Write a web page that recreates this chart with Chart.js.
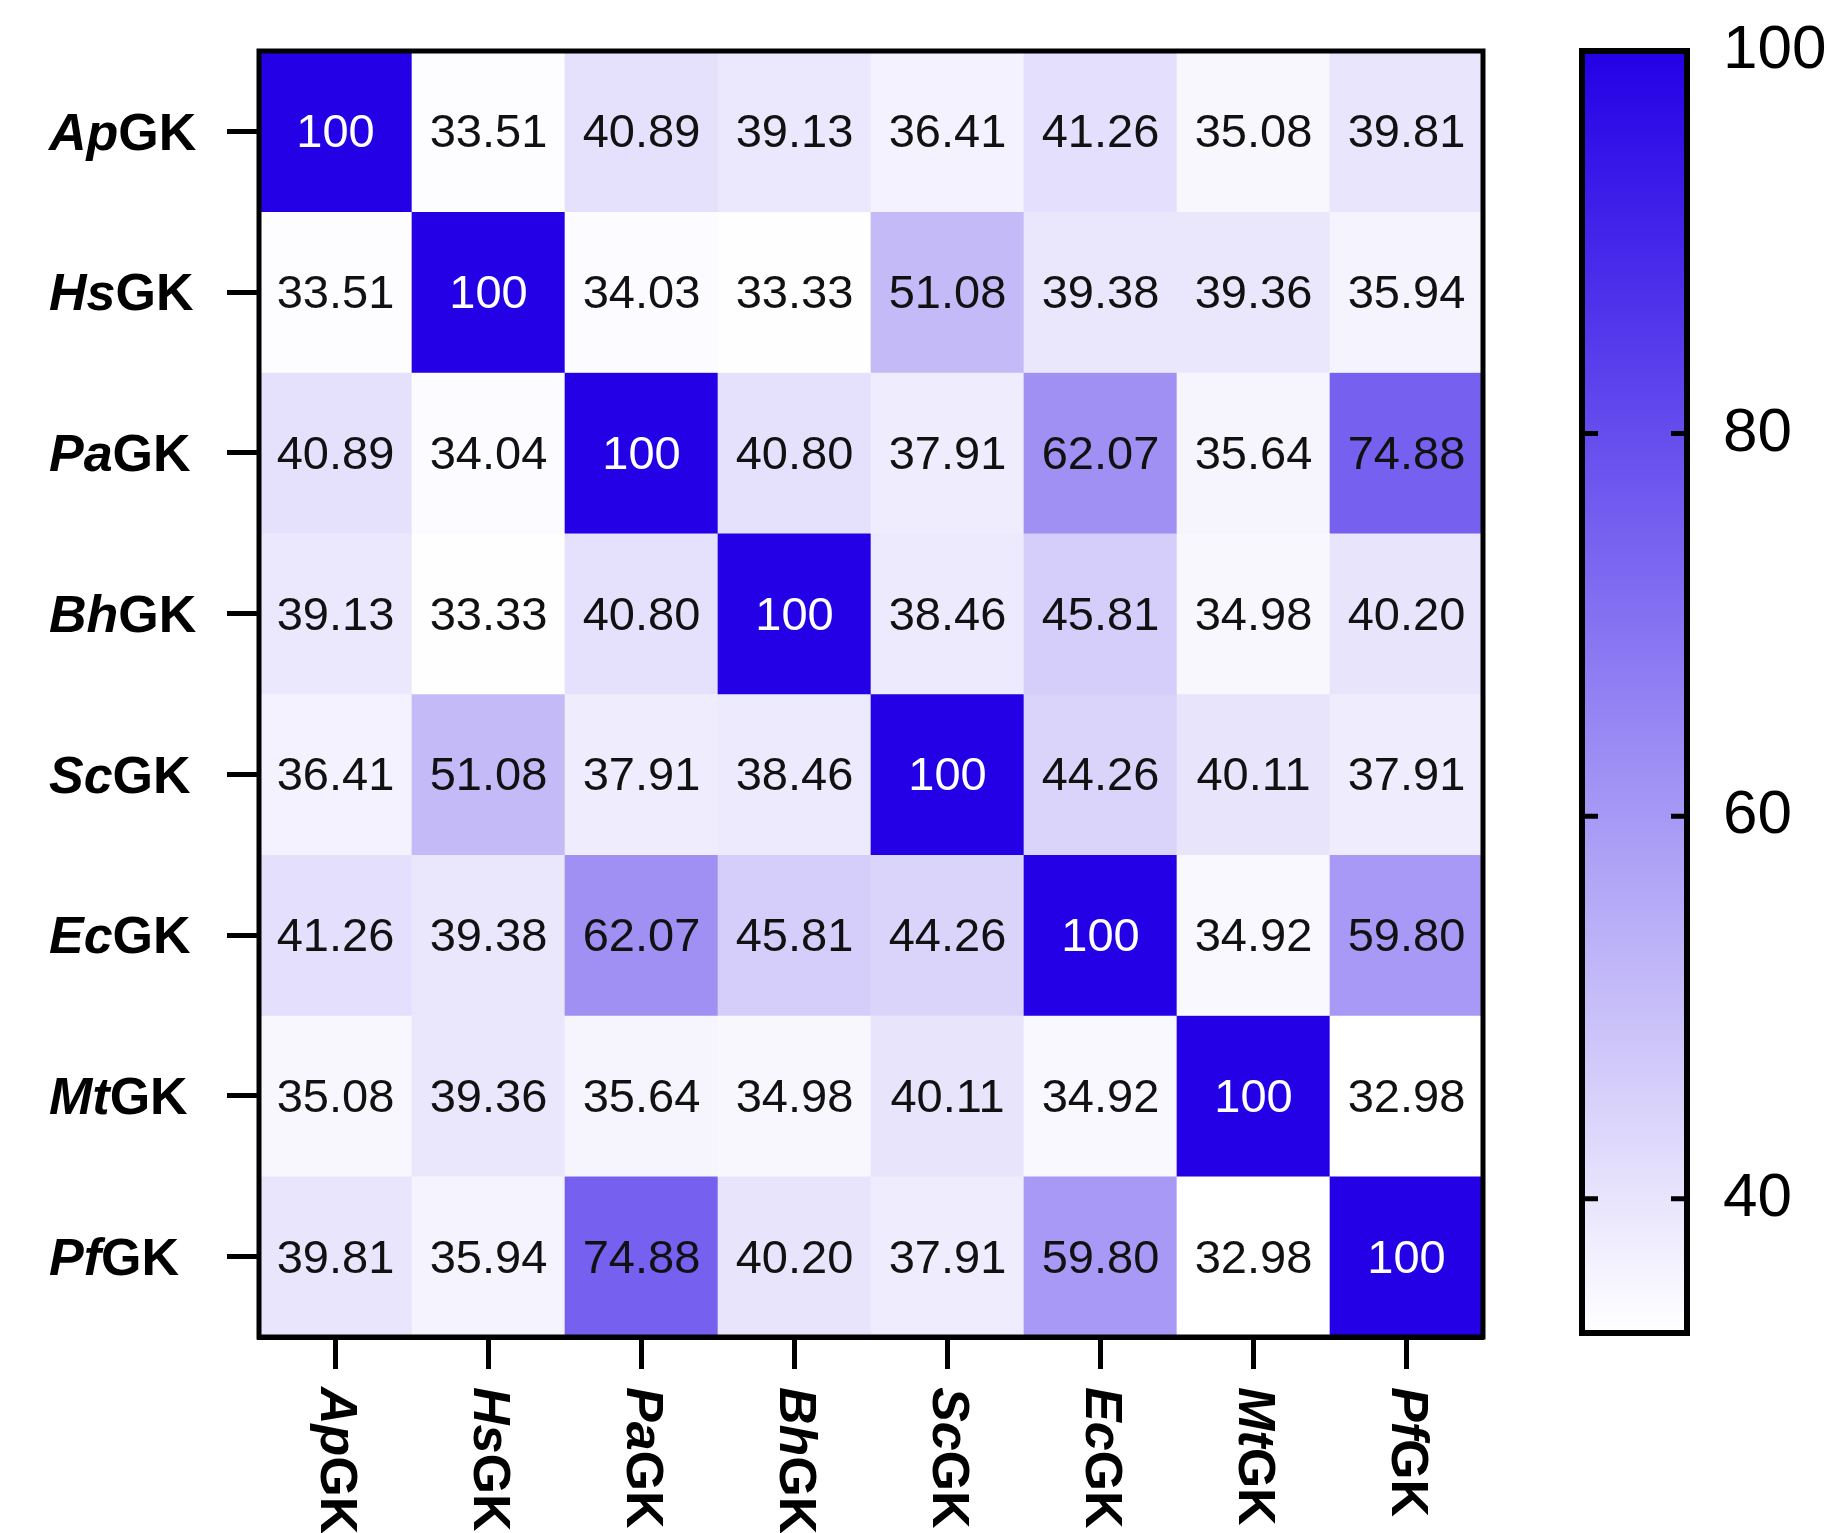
<!DOCTYPE html>
<html>
<head>
<meta charset="utf-8">
<script src="https://cdn.jsdelivr.net/npm/chart.js@4.4.1/dist/chart.umd.min.js"></script>
<style>
  body { margin: 0; background: #fff; }
  #wrap { position: relative; width: 1828px; height: 1533px; overflow: hidden; }
  #heat { position: absolute; left: 0; top: 0; }
  #bar { position: absolute; left: 1500px; top: 0; }
</style>
</head>
<body>
<div id="wrap">
  <canvas id="heat" width="1540" height="1533"></canvas>
  <canvas id="bar" width="328" height="1533"></canvas>
</div>
<script>
// species (same order on both axes), prefix is italic
const species = ['ApGK', 'HsGK', 'PaGK', 'BhGK', 'ScGK', 'EcGK', 'MtGK', 'PfGK'];
const prefixes = ['Ap', 'Hs', 'Pa', 'Bh', 'Sc', 'Ec', 'Mt', 'Pf'];

// identity (%) rows, top to bottom
const apgk = [100, 33.51, 40.89, 39.13, 36.41, 41.26, 35.08, 39.81];
const hsgk = [33.51, 100, 34.03, 33.33, 51.08, 39.38, 39.36, 35.94];
const pagk = [40.89, 34.04, 100, 40.80, 37.91, 62.07, 35.64, 74.88];
const bhgk = [39.13, 33.33, 40.80, 100, 38.46, 45.81, 34.98, 40.20];
const scgk = [36.41, 51.08, 37.91, 38.46, 100, 44.26, 40.11, 37.91];
const ecgk = [41.26, 39.38, 62.07, 45.81, 44.26, 100, 34.92, 59.80];
const mtgk = [35.08, 39.36, 35.64, 34.98, 40.11, 34.92, 100, 32.98];
const pfgk = [39.81, 35.94, 74.88, 40.20, 37.91, 59.80, 32.98, 100];
const rows = [apgk, hsgk, pagk, bhgk, scgk, ecgk, mtgk, pfgk];

// colour scale
const scaleMin = 32.98;
const scaleMax = 100;
const scaleTicks = [40, 60, 80, 100];

const hiColor = [35, 0, 230];
function colorFor(v) {
  const t = Math.max(0, Math.min(1, (v - scaleMin) / (scaleMax - scaleMin)));
  const r = Math.round(255 + t * (hiColor[0] - 255));
  const g = Math.round(255 + t * (hiColor[1] - 255));
  const b = Math.round(255 + t * (hiColor[2] - 255));
  return `rgb(${r},${g},${b})`;
}

function fmt(v) {
  return v === 100 ? '100' : v.toFixed(2);
}

const FONT = '"Liberation Sans", Arial, Helvetica, sans-serif';

// one dataset per row, floating bars [i, i+1] on the y scale
const datasets = rows.map((vals, i) => ({
  label: species[i],
  data: vals.map(() => [i, i + 1]),
  values: vals,
  backgroundColor: vals.map(colorFor),
  borderWidth: 0,
  barPercentage: 1,
  categoryPercentage: 1,
  grouped: false
}));

// draws cell values, the frame and the mixed-style axis labels
const heatLabels = {
  id: 'heatLabels',
  afterDatasetsDraw(chart) {
    const ctx = chart.ctx;
    const area = chart.chartArea;
    ctx.save();
    ctx.font = '47px ' + FONT;
    ctx.textAlign = 'center';
    ctx.textBaseline = 'middle';
    chart.data.datasets.forEach((ds, i) => {
      const meta = chart.getDatasetMeta(i);
      meta.data.forEach((bar, j) => {
        const p = bar.getProps(['x', 'y', 'base'], true);
        const v = ds.values[j];
        ctx.fillStyle = v === 100 ? '#fff' : '#111';
        ctx.fillText(fmt(v), p.x, (p.y + p.base) / 2 + 3);
      });
    });

    ctx.lineWidth = 5;
    ctx.strokeStyle = '#000';
    ctx.strokeRect(area.left, area.top, area.right - area.left, area.bottom - area.top);

    const xs = chart.scales.x;
    const ys = chart.scales.y;
    ctx.fillStyle = '#000';
    ctx.textAlign = 'left';
    ctx.textBaseline = 'middle';
    species.forEach((name, i) => {
      const pre = prefixes[i];
      const rest = name.slice(pre.length);
      // y labels
      const yy = ys.getPixelForValue(i + 0.5) + 4;
      ctx.font = 'italic bold 52px ' + FONT;
      ctx.fillText(pre, 49, yy);
      const w = ctx.measureText(pre).width;
      ctx.font = 'bold 52px ' + FONT;
      ctx.fillText(rest, 49 + w, yy);
      // x labels, rotated clockwise
      const xx = xs.getPixelForValue(i);
      ctx.save();
      ctx.translate(xx, 1387);
      ctx.rotate(Math.PI / 2);
      ctx.font = 'italic bold 52px ' + FONT;
      ctx.fillText(pre, 0, 0);
      ctx.font = 'bold 52px ' + FONT;
      ctx.fillText(rest, w, 0);
      ctx.restore();
    });
    ctx.restore();
  }
};

new Chart(document.getElementById('heat'), {
  type: 'bar',
  data: { labels: species, datasets: datasets },
  options: {
    responsive: false,
    animation: false,
    layout: { padding: { left: 0, top: 51, right: 57, bottom: 0 } },
    plugins: { legend: { display: false }, tooltip: { enabled: false } },
    scales: {
      x: {
        ticks: { display: false },
        grid: { display: true, offset: false, drawOnChartArea: false, drawTicks: true, tickLength: 32, tickWidth: 5, tickColor: '#000' },
        border: { display: true, width: 5, color: '#000' },
        afterFit(scale) { scale.height = 196; }
      },
      y: {
        min: 0,
        max: 8,
        reverse: true,
        afterBuildTicks(scale) {
          scale.ticks = species.map((_, i) => ({ value: i + 0.5 }));
        },
        ticks: { display: false },
        grid: { display: true, drawOnChartArea: false, drawTicks: true, tickLength: 32, tickWidth: 5, tickColor: '#000' },
        border: { display: true, width: 5, color: '#000' },
        afterFit(scale) { scale.width = 259; }
      }
    }
  },
  plugins: [heatLabels]
});

// colour bar
const barFrame = {
  id: 'barFrame',
  afterDatasetsDraw(chart) {
    const ctx = chart.ctx;
    const area = chart.chartArea;
    const ys = chart.scales.y;
    ctx.save();
    ctx.strokeStyle = '#000';
    ctx.lineWidth = 6;
    ctx.strokeRect(area.left, area.top, area.right - area.left, area.bottom - area.top);
    ctx.lineWidth = 5;
    scaleTicks.forEach(t => {
      if (t === scaleMax) return;
      const y = ys.getPixelForValue(t);
      ctx.beginPath();
      ctx.moveTo(area.left, y);
      ctx.lineTo(area.left + 16, y);
      ctx.moveTo(area.right - 16, y);
      ctx.lineTo(area.right, y);
      ctx.stroke();
    });
    ctx.restore();
  }
};

new Chart(document.getElementById('bar'), {
  type: 'bar',
  data: {
    labels: [''],
    datasets: [{
      data: [[scaleMin, scaleMax]],
      borderWidth: 0,
      barPercentage: 1,
      categoryPercentage: 1,
      backgroundColor(context) {
        const area = context.chart.chartArea;
        if (!area) return colorFor(scaleMax);
        const g = context.chart.ctx.createLinearGradient(0, area.bottom, 0, area.top);
        g.addColorStop(0, colorFor(scaleMin));
        g.addColorStop(0.5, colorFor((scaleMin + scaleMax) / 2));
        g.addColorStop(1, colorFor(scaleMax));
        return g;
      }
    }]
  },
  options: {
    responsive: false,
    animation: false,
    layout: { padding: { left: 82, top: 51, right: 0, bottom: 200 } },
    plugins: { legend: { display: false }, tooltip: { enabled: false } },
    scales: {
      x: { display: false },
      y: {
        position: 'right',
        min: scaleMin,
        max: scaleMax,
        afterBuildTicks(scale) {
          scale.ticks = scaleTicks.map(v => ({ value: v }));
        },
        ticks: { color: '#000', padding: 36, font: { family: FONT, size: 62 } },
        grid: { display: false, drawTicks: false },
        border: { display: false },
        afterFit(scale) {
          scale.width = 141;
          scale.paddingTop = 0;
          scale.paddingBottom = 0;
        }
      }
    }
  },
  plugins: [barFrame]
});
</script>
</body>
</html>
